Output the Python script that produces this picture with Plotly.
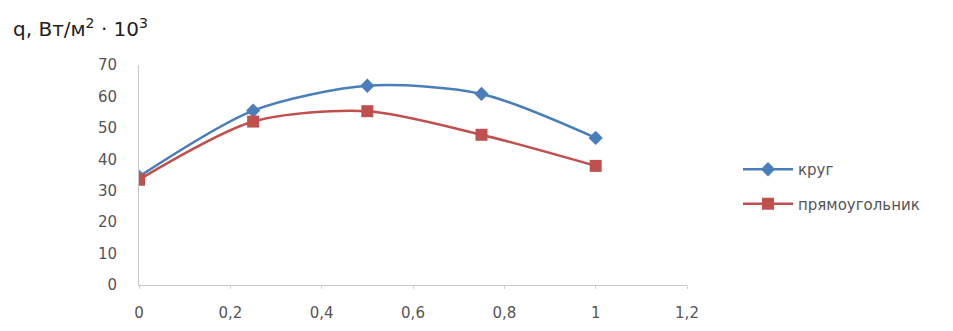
import plotly.graph_objects as go

x_vals = [0, 0.25, 0.5, 0.75, 1.0]
krug = [34.5, 55.5, 63.4, 60.8, 46.8]
pryam = [33.5, 52.0, 55.3, 47.8, 37.9]
series_names = ["круг", "прямоугольник"]
x_ticks = [0, 0.2, 0.4, 0.6, 0.8, 1.0, 1.2]
y_ticks = [0, 10, 20, 30, 40, 50, 60, 70]

W, H = 953, 331
L, R, T, B = 139, 266, 65, 46

fig = go.Figure()
fig.add_trace(go.Scatter(
    x=x_vals, y=krug, name=series_names[0], mode="lines+markers",
    line=dict(color="#4A7EBB", width=2.5, shape="spline", smoothing=0.8),
    marker=dict(symbol="diamond", size=11, color="#4A7EBB"),
    legendgroup="a",
))
fig.add_trace(go.Scatter(
    x=x_vals, y=pryam, name=series_names[1], mode="lines+markers",
    line=dict(color="#C0504D", width=2.5, shape="spline", smoothing=0.8),
    marker=dict(symbol="square", size=12, color="#C0504D"),
    legendgroup="b",
))

fig.update_layout(
    width=W, height=H,
    margin=dict(l=L, r=R, t=T, b=B, autoexpand=False),
    paper_bgcolor="white", plot_bgcolor="white",
    separators=", ",
    font=dict(family="DejaVu Sans, sans-serif", size=13, color="#555555"),
    showlegend=True,
    legend=dict(x=(738 - L) / (W - L - R), xanchor="left", y=(H - B - 153) / (H - T - B),
                yanchor="top", traceorder="grouped", tracegroupgap=12, itemwidth=50,
                font=dict(family="DejaVu Sans, sans-serif", size=15, color="#555555"),
                bgcolor="rgba(0,0,0,0)"),
    xaxis=dict(range=[0, 1.2], tickvals=x_ticks, automargin=False,
               showgrid=False, zeroline=False, showline=True, linecolor="#C8C8C8", linewidth=1,
               ticks="outside", ticklen=3, tickcolor="#D0D0D0", ticklabelstandoff=11,
               tickfont=dict(size=15, color="#555555")),
    yaxis=dict(range=[0, 70], tickvals=y_ticks, automargin=False,
               showgrid=False, zeroline=False, showline=True, linecolor="#C8C8C8", linewidth=1,
               ticks="", ticklabelstandoff=18, tickfont=dict(size=15, color="#555555")),
    annotations=[dict(
        text="q, Вт/м<sup>2</sup> · 10<sup>3</sup>", xref="paper", yref="paper",
        x=(11 - L) / (W - L - R), y=1 + (T - 28) / (H - T - B), xanchor="left", yanchor="middle",
        showarrow=False, font=dict(family="DejaVu Sans, sans-serif", size=20, color="#222222"),
    )],
)

fig.write_html("out.html")
